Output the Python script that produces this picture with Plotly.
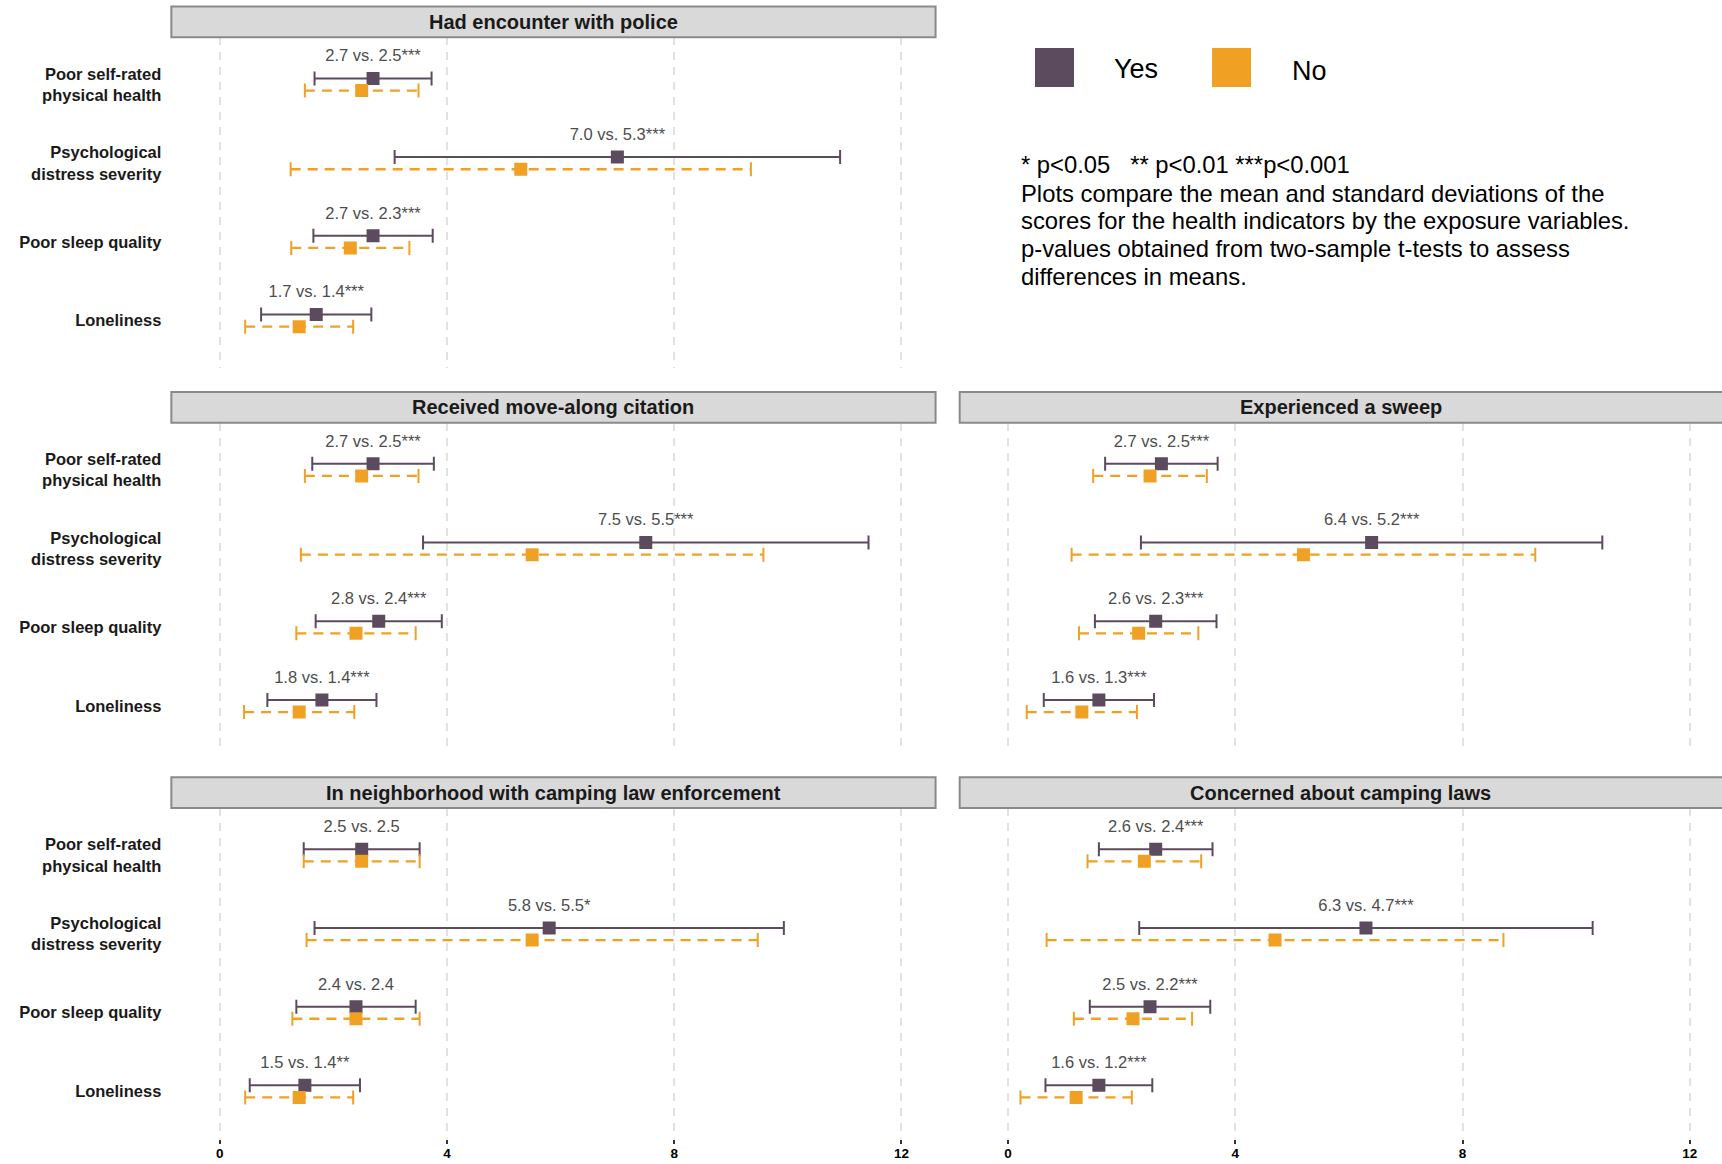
import plotly.graph_objects as go

# Health indicators (rows of every panel)
indicators = [
    "Poor self-rated<br>physical health",
    "Psychological<br>distress severity",
    "Poor sleep quality",
    "Loneliness",
]
x_ticks = [0, 4, 8, 12]

# Had encounter with police
police_title = "Had encounter with police"
police_yes_mean = [2.7, 7.0, 2.7, 1.7]
police_yes_sd = [1.03, 3.92, 1.05, 0.97]
police_no_mean = [2.5, 5.3, 2.3, 1.4]
police_no_sd = [1.00, 4.05, 1.04, 0.95]
police_sig = ["***", "***", "***", "***"]

# Received move-along citation
citation_title = "Received move-along citation"
citation_yes_mean = [2.7, 7.5, 2.8, 1.8]
citation_yes_sd = [1.07, 3.92, 1.11, 0.96]
citation_no_mean = [2.5, 5.5, 2.4, 1.4]
citation_no_sd = [1.00, 4.07, 1.05, 0.97]
citation_sig = ["***", "***", "***", "***"]

# Experienced a sweep
sweep_title = "Experienced a sweep"
sweep_yes_mean = [2.7, 6.4, 2.6, 1.6]
sweep_yes_sd = [0.99, 4.06, 1.07, 0.97]
sweep_no_mean = [2.5, 5.2, 2.3, 1.3]
sweep_no_sd = [1.00, 4.08, 1.05, 0.97]
sweep_sig = ["***", "***", "***", "***"]

# In neighborhood with camping law enforcement
enforce_title = "In neighborhood with camping law enforcement"
enforce_yes_mean = [2.5, 5.8, 2.4, 1.5]
enforce_yes_sd = [1.02, 4.13, 1.05, 0.97]
enforce_no_mean = [2.5, 5.5, 2.4, 1.4]
enforce_no_sd = [1.02, 3.97, 1.12, 0.95]
enforce_sig = ["", "*", "", "**"]

# Concerned about camping laws
concern_title = "Concerned about camping laws"
concern_yes_mean = [2.6, 6.3, 2.5, 1.6]
concern_yes_sd = [1.00, 3.99, 1.06, 0.94]
concern_no_mean = [2.4, 4.7, 2.2, 1.2]
concern_no_sd = [1.00, 4.02, 1.04, 0.98]
concern_sig = ["***", "***", "***", "***"]

note_lines = [
    "*\u00a0p<0.05\u00a0\u00a0\u00a0**\u00a0p<0.01\u00a0***p<0.001",
    "Plots compare the mean and standard deviations of the",
    "scores for the health indicators by the exposure variables.",
    "p-values obtained from two-sample t-tests to assess",
    "differences in means.",
]

YES_COLOR = "#5c4a5e"
NO_COLOR = "#f0a124"
FONT = "Liberation Sans, Arial, Helvetica, sans-serif"
W, H = 1722, 1164

# facet grid geometry (paper fractions)
col_domains = [[0.0995, 0.5433], [0.5573, 1.0]]
col_ranges = [[-0.85, 12.60], [-0.85, 12.566]]
row_domains = [[0.6840, 0.9680], [0.3529, 0.6369], [0.0218, 0.3058]]
STRIP_H = 0.0264
DODGE = 0.077
LIFT = 0.27

panels = [
    dict(title=police_title, ym=police_yes_mean, ys=police_yes_sd, nm=police_no_mean,
         ns=police_no_sd, sig=police_sig, col=0, row=0),
    dict(title=citation_title, ym=citation_yes_mean, ys=citation_yes_sd, nm=citation_no_mean,
         ns=citation_no_sd, sig=citation_sig, col=0, row=1),
    dict(title=sweep_title, ym=sweep_yes_mean, ys=sweep_yes_sd, nm=sweep_no_mean,
         ns=sweep_no_sd, sig=sweep_sig, col=1, row=1),
    dict(title=enforce_title, ym=enforce_yes_mean, ys=enforce_yes_sd, nm=enforce_no_mean,
         ns=enforce_no_sd, sig=enforce_sig, col=0, row=2),
    dict(title=concern_title, ym=concern_yes_mean, ys=concern_yes_sd, nm=concern_no_mean,
         ns=concern_no_sd, sig=concern_sig, col=1, row=2),
]

fig = go.Figure()
layout_axes = {}
shapes = []
annotations = []
ypos = list(range(len(indicators)))

for k, p in enumerate(panels):
    suffix = "" if k == 0 else str(k + 1)
    xa, ya = "x" + suffix, "y" + suffix
    groups = [
        ("Yes", p["ym"], p["ys"], YES_COLOR, "solid", -DODGE, 2),
        ("No", p["nm"], p["ns"], NO_COLOR, "10px,7px", DODGE, 2.3),
    ]
    for name, means, sds, color, dash, off, lw in groups:
        yy = [i + off for i in ypos]
        seg_x, seg_y = [], []
        for m, s, y in zip(means, sds, yy):
            seg_x += [m - s, m + s, None]
            seg_y += [y, y, None]
        fig.add_trace(go.Scatter(
            x=seg_x, y=seg_y, mode="lines", xaxis=xa, yaxis=ya,
            line=dict(color=color, width=lw, dash=dash),
            showlegend=False, hoverinfo="skip"))
        cap_x = [m - s for m, s in zip(means, sds)] + [m + s for m, s in zip(means, sds)]
        fig.add_trace(go.Scatter(
            x=cap_x, y=yy + yy, mode="markers", xaxis=xa, yaxis=ya,
            marker=dict(symbol="line-ns", size=10, line=dict(color=color, width=2)),
            showlegend=False, hoverinfo="skip"))
        fig.add_trace(go.Scatter(
            x=means, y=yy, mode="markers", xaxis=xa, yaxis=ya, name=name,
            marker=dict(symbol="square", size=13, color=color),
            showlegend=False))
    labels = [f"{a:.1f} vs. {b:.1f}{s}" for a, b, s in zip(p["ym"], p["nm"], p["sig"])]
    fig.add_trace(go.Scatter(
        x=p["ym"], y=[i - DODGE - LIFT for i in ypos], mode="text", text=labels,
        xaxis=xa, yaxis=ya, textposition="middle center",
        textfont=dict(family=FONT, size=16.5, color="#4d4d4d"),
        showlegend=False, hoverinfo="skip"))

    col, row = p["col"], p["row"]
    bottom = row == 2
    layout_axes["xaxis" + suffix] = dict(
        domain=col_domains[col], range=col_ranges[col], anchor=ya,
        tickmode="array", tickvals=x_ticks, ticktext=[str(t) for t in x_ticks],
        showgrid=True, gridcolor="#e2e2e2", gridwidth=1.5, griddash="8px,7px",
        zeroline=False, showline=False,
        showticklabels=bottom, ticks="outside" if bottom else "",
        ticklen=4, tickwidth=2, tickcolor="#333333", ticklabelstandoff=-2,
        tickfont=dict(family=FONT, size=13.5, color="#000000", weight="bold"),
    )
    layout_axes["yaxis" + suffix] = dict(
        domain=row_domains[row], range=[3.6, -0.6], anchor=xa,
        tickmode="array", tickvals=ypos, ticktext=indicators,
        showticklabels=(col == 0), showgrid=False, zeroline=False, showline=False,
        ticks="", ticklabelstandoff=9,
        tickfont=dict(family=FONT, size=16.5, color="#1a1a1a", weight="bold"),
    )

    # facet strip
    x0, x1 = col_domains[col]
    if col == 1:
        x1 = 1.003
    y0 = row_domains[row][1]
    shapes.append(dict(type="rect", xref="paper", yref="paper", x0=x0, x1=x1,
                       y0=y0, y1=y0 + STRIP_H, fillcolor="#d9d9d9",
                       line=dict(color="#8a8a8a", width=2), layer="above"))
    annotations.append(dict(
        xref="paper", yref="paper", x=(col_domains[col][0] + col_domains[col][1]) / 2,
        y=y0 + STRIP_H / 2, text=p["title"], showarrow=False,
        xanchor="center", yanchor="middle",
        font=dict(family=FONT, size=20, color="#1a1a1a", weight="bold")))

# legend keys
for label, color, kx0, kx1, tx, ty in [
    ("Yes", YES_COLOR, 1035, 1074, 1112, 69),
    ("No", NO_COLOR, 1212, 1251, 1290, 71),
]:
    shapes.append(dict(type="rect", xref="paper", yref="paper",
                       x0=kx0 / W, x1=kx1 / W, y0=1 - 87 / H, y1=1 - 48 / H,
                       fillcolor=color, line=dict(width=0)))
    annotations.append(dict(
        xref="paper", yref="paper", x=tx / W, y=1 - ty / H, text=label,
        showarrow=False, xanchor="left", yanchor="middle",
        font=dict(family=FONT, size=27, color="#000000")))

# explanatory notes
for line, cy in zip(note_lines, [164.7, 193.2, 220.7, 248.1, 276.7]):
    annotations.append(dict(
        xref="paper", yref="paper", x=1019 / W, y=1 - cy / H, text=line,
        showarrow=False, xanchor="left", yanchor="middle",
        font=dict(family=FONT, size=23.8, color="#000000")))

fig.update_layout(
    width=W, height=H, autosize=False,
    margin=dict(l=0, r=0, t=0, b=0),
    paper_bgcolor="white", plot_bgcolor="white",
    showlegend=False, hovermode=False,
    shapes=shapes, annotations=annotations,
    font=dict(family=FONT),
    **layout_axes,
)

fig.write_html("out.html")
